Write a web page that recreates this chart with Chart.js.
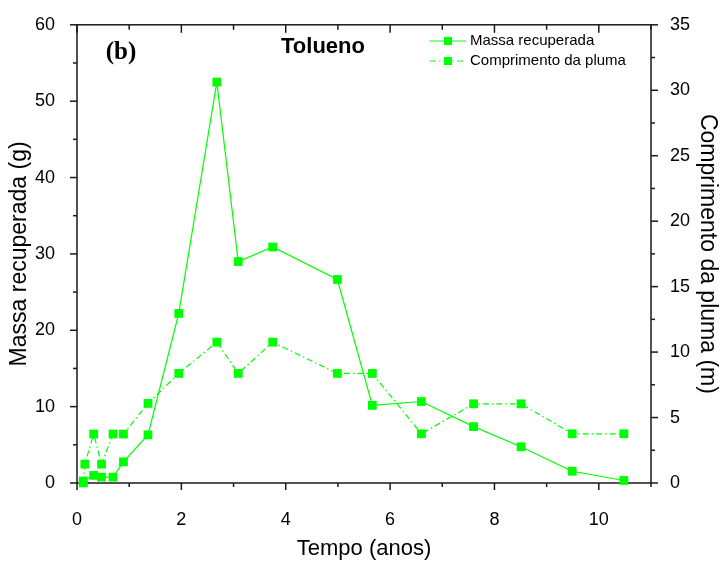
<!DOCTYPE html>
<html>
<head>
<meta charset="utf-8">
<script src="https://cdn.jsdelivr.net/npm/chart.js@4"></script>
<style>
  html, body { margin: 0; padding: 0; background: #fff; }
  #wrap { width: 722px; height: 564px; }
</style>
</head>
<body>
<div id="wrap"><canvas id="grafico" width="722" height="564"></canvas></div>
<script>
// dados (Tolueno)
const tempoMassa = [0.12, 0.32, 0.47, 0.69, 0.89, 1.36, 1.95, 2.68, 3.09, 3.75, 4.99, 5.66, 6.60, 7.60, 8.51, 9.49, 10.48];
const massaRecuperada = [0.26, 1.0, 0.77, 0.77, 2.77, 6.3, 22.2, 52.5, 29.0, 30.9, 26.65, 10.16, 10.67, 7.38, 4.74, 1.54, 0.33];
const tempoPluma = [0.12, 0.15, 0.32, 0.47, 0.69, 0.89, 1.36, 1.95, 2.68, 3.09, 3.75, 4.99, 5.66, 6.60, 7.60, 8.51, 9.49, 10.48];
const comprimentoPluma = [0, 1.44, 3.74, 1.44, 3.74, 3.74, 6.08, 8.37, 10.76, 8.37, 10.76, 8.37, 8.37, 3.76, 6.05, 6.05, 3.76, 3.76];

const verde = '#00ff00';
const fonte = "'Liberation Sans', Arial, sans-serif";
const tracoPluma = [6, 3, 1.5, 3];

// moldura, marcas dos eixos, legenda e textos
const extras = {
  id: 'extras',
  beforeDatasetsDraw(chart) {
    const { ctx, chartArea: a, scales } = chart;
    ctx.save();
    ctx.strokeStyle = '#1a1a1a';
    ctx.lineWidth = 1.5;
    ctx.strokeRect(a.left, a.top, a.right - a.left, a.bottom - a.top);
    const seg = (x1, y1, x2, y2) => { ctx.beginPath(); ctx.moveTo(x1, y1); ctx.lineTo(x2, y2); ctx.stroke(); };
    for (let v = 0; v <= 11; v++) {
      const px = scales.x.getPixelForValue(v);
      const len = v % 2 === 0 ? 7 : 4;
      seg(px, a.bottom, px, a.bottom + len);
      seg(px, a.top, px, a.top + len + 1);
    }
    for (let v = 0; v <= 60; v += 5) {
      const py = scales.y.getPixelForValue(v);
      seg(a.left, py, a.left - (v % 10 === 0 ? 7 : 4), py);
    }
    for (let v = 0; v <= 35; v += 2.5) {
      const py = scales.y2.getPixelForValue(v);
      seg(a.right, py, a.right + (v % 5 === 0 ? 7 : 4), py);
    }
    ctx.restore();
  },
  afterDraw(chart) {
    const { ctx } = chart;
    ctx.save();
    ctx.fillStyle = '#000';
    ctx.textBaseline = 'middle';
    ctx.font = "bold 25px 'Liberation Serif', 'Times New Roman', serif";
    ctx.textAlign = 'center';
    ctx.fillText('(b)', 121, 53);
    ctx.font = 'bold 22px ' + fonte;
    ctx.fillText('Tolueno', 323, 47);

    // legenda
    ctx.font = '15px ' + fonte;
    ctx.textAlign = 'left';
    chart.data.datasets.forEach((ds, i) => {
      const y = 41 + i * 20;
      ctx.strokeStyle = ds.borderColor;
      ctx.lineWidth = 1;
      ctx.setLineDash(ds.borderDash || []);
      ctx.beginPath(); ctx.moveTo(430, y); ctx.lineTo(466, y); ctx.stroke();
      ctx.setLineDash([]);
      ctx.fillStyle = ds.pointBackgroundColor;
      ctx.fillRect(444, y - 4, 8, 8);
      ctx.fillStyle = '#000';
      ctx.fillText(ds.label, 470, y);
    });
    ctx.restore();
  }
};

new Chart(document.getElementById('grafico'), {
  type: 'line',
  data: {
    datasets: [
      {
        label: 'Massa recuperada',
        data: tempoMassa.map((t, i) => ({ x: t, y: massaRecuperada[i] })),
        yAxisID: 'y',
        borderColor: verde,
        borderWidth: 1.2,
        pointBackgroundColor: verde,
        pointBorderWidth: 0,
        pointStyle: 'rect',
        pointRadius: 6.2,
        tension: 0,
        clip: false
      },
      {
        label: 'Comprimento da pluma',
        data: tempoPluma.map((t, i) => ({ x: t, y: comprimentoPluma[i] })),
        yAxisID: 'y2',
        borderColor: verde,
        borderWidth: 1.2,
        borderDash: tracoPluma,
        pointBackgroundColor: verde,
        pointBorderWidth: 0,
        pointStyle: 'rect',
        pointRadius: 6.2,
        tension: 0,
        clip: false
      }
    ]
  },
  options: {
    responsive: false,
    animation: false,
    layout: { padding: { top: 15, left: 0, right: 0, bottom: 0 } },
    plugins: { legend: { display: false }, tooltip: { enabled: false } },
    scales: {
      x: {
        type: 'linear', min: 0, max: 11,
        grid: { display: false }, border: { display: false },
        ticks: { stepSize: 2, includeBounds: false, padding: 18, color: '#000', font: { family: fonte, size: 18 } },
        title: { display: true, text: 'Tempo (anos)', color: '#000', font: { family: fonte, size: 22 }, padding: 2 },
        afterFit: s => { s.height = 81; }
      },
      y: {
        position: 'left', min: 0, max: 60,
        grid: { display: false }, border: { display: false },
        ticks: { stepSize: 10, padding: 14, color: '#000', font: { family: fonte, size: 18 } },
        title: { display: true, text: 'Massa recuperada (g)', color: '#000', font: { family: fonte, size: 23 }, padding: 6 },
        afterFit: s => { s.width = 77; }
      },
      y2: {
        position: 'right', min: 0, max: 35,
        grid: { display: false }, border: { display: false },
        ticks: { stepSize: 5, padding: 11, color: '#000', font: { family: fonte, size: 18 } },
        title: { display: true, text: 'Comprimento da pluma (m)', color: '#000', font: { family: fonte, size: 23 }, padding: 1 },
        afterFit: s => { s.width = 71; }
      }
    }
  },
  plugins: [extras]
});
</script>
</body>
</html>
